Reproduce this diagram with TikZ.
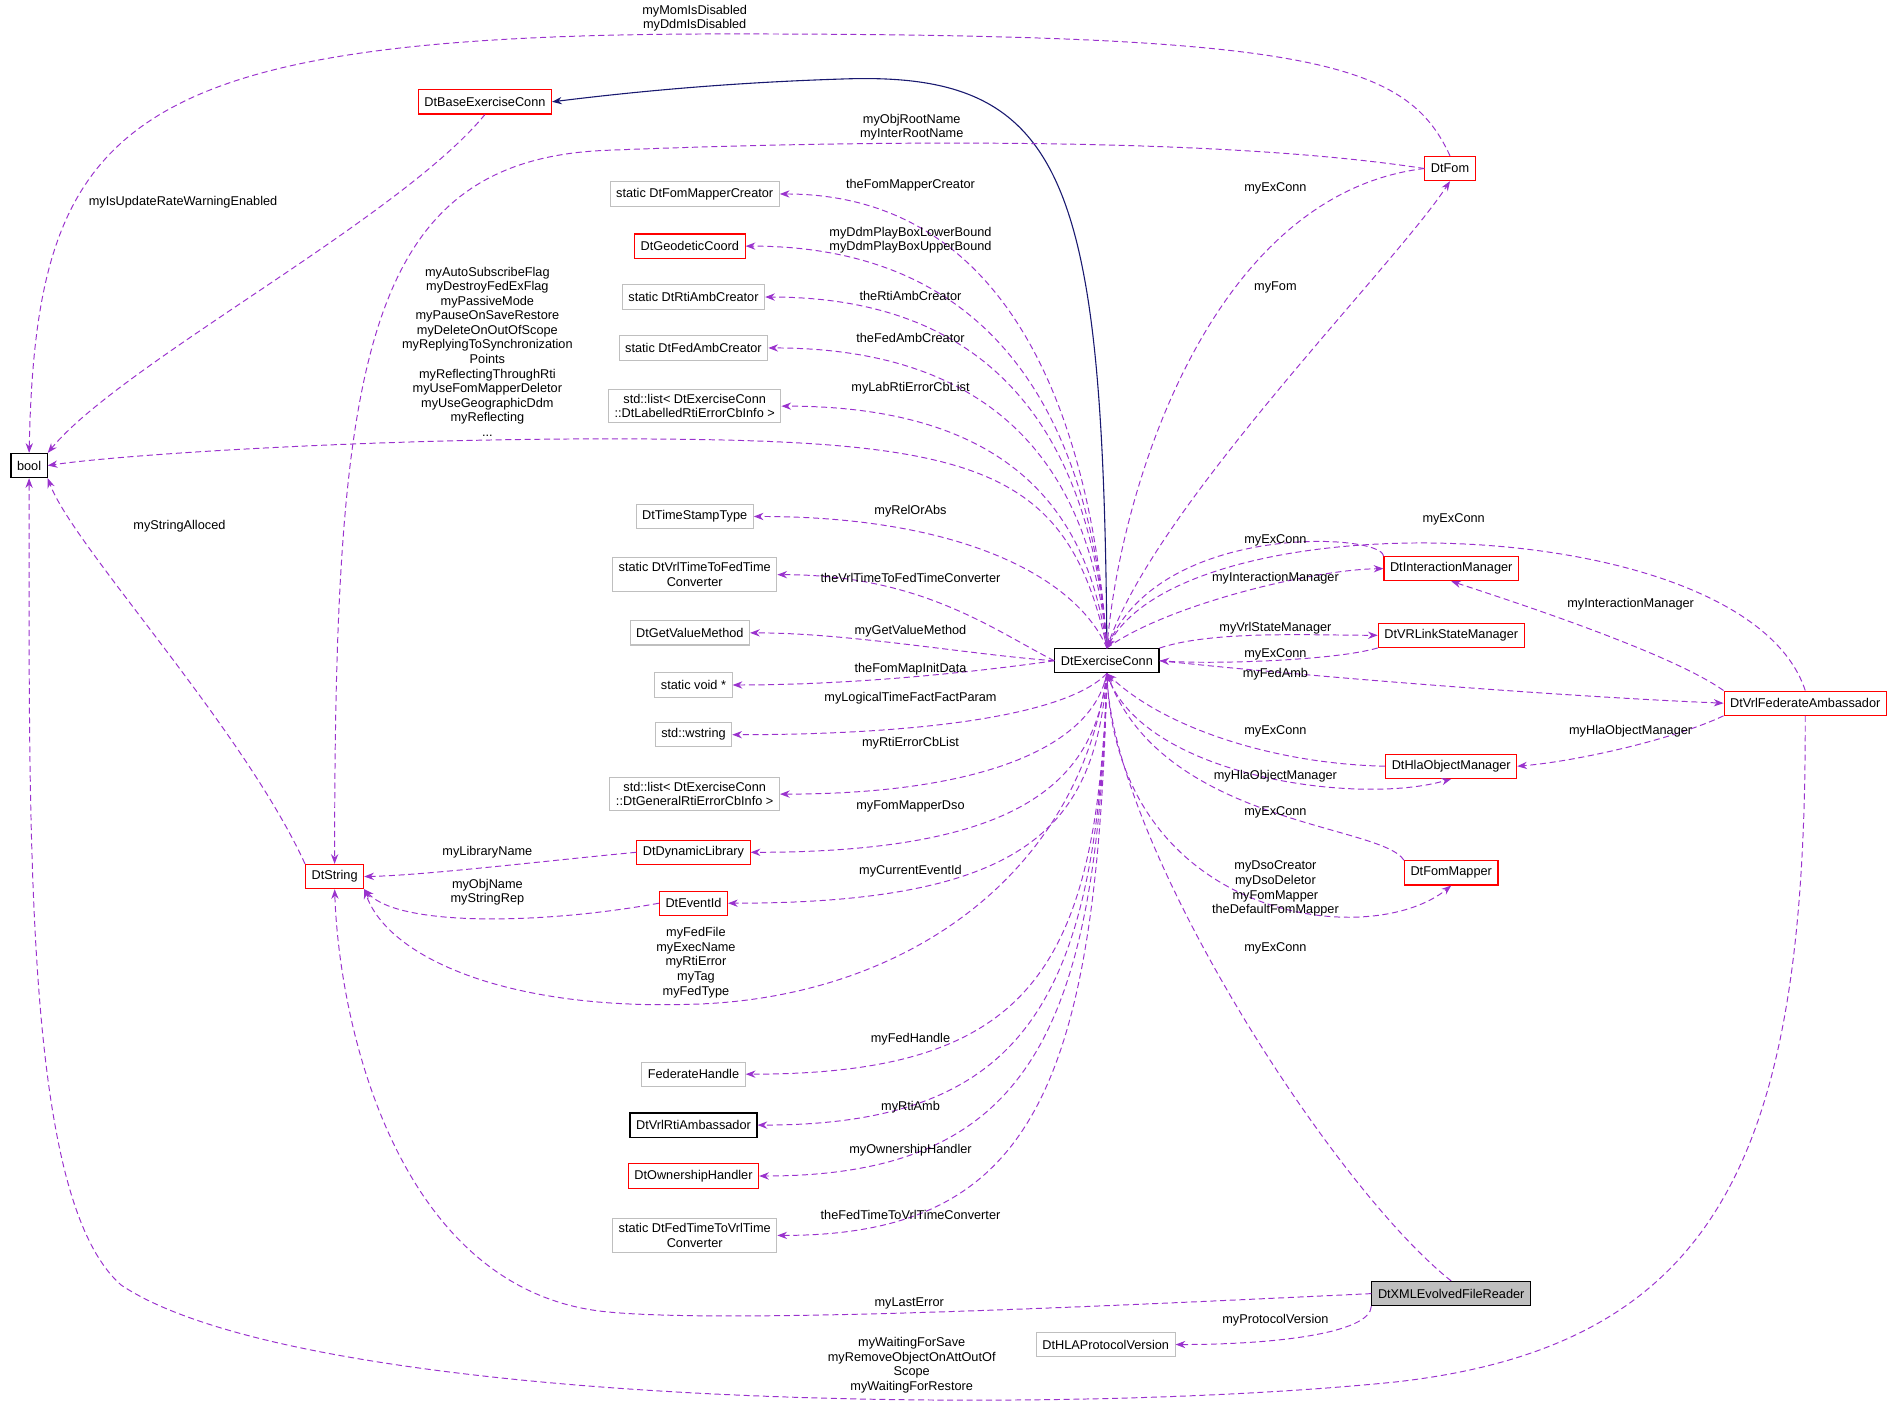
\documentclass[tikz,border=0pt]{standalone}
\usepackage{fontspec}
\setmainfont{Liberation Sans}
\usetikzlibrary{arrows.meta}
\definecolor{dred}{HTML}{FF0000}
\definecolor{dgray}{HTML}{BFBFBF}
\definecolor{dpurple}{HTML}{9A32CD}
\definecolor{dnavy}{HTML}{191970}
\begin{document}
\begin{tikzpicture}[x=1pt,y=-1pt,
  every node/.style={font=\fontsize{10.5}{12}\selectfont},
  box/.style={draw,rectangle,inner xsep=5pt,minimum height=20pt,align=center,line width=0.9pt},
  rb/.style={box,draw=dred},
  gb/.style={box,draw=dgray},
  kb/.style={box,draw=black},
  lbl/.style={align=center,inner sep=0pt},
  dep/.style={draw=dpurple,dashed,dash pattern=on 5pt off 3pt,line width=0.8pt,-{Stealth[length=8pt,width=6pt,fill=dpurple]}},
  inh/.style={draw=dnavy,line width=0.9pt,-{Stealth[length=8pt,width=6pt,fill=dnavy]}}]
\useasboundingbox (0,0) rectangle (1568,1155);
% nodes
\node[kb] (bool) at (24,384) {bool};
\node[rb] (bec) at (400,84) {DtBaseExerciseConn};
\node[rb] (fom) at (1196,139) {DtFom};
\node[gb] (fmc) at (573,160) {static DtFomMapperCreator};
\node[rb] (geo) at (569,203) {DtGeodeticCoord};
\node[gb] (rac) at (572,245) {static DtRtiAmbCreator};
\node[gb] (fac) at (572,287) {static DtFedAmbCreator};
\node[gb,inner ysep=4pt] (lab) at (573,335) {std::list< DtExerciseConn\\::DtLabelledRtiErrorCbInfo >};
\node[gb] (tst) at (573,426) {DtTimeStampType};
\node[gb,inner ysep=4pt] (v2f) at (573,474) {static DtVrlTimeToFedTime\\Converter};
\node[gb] (gvm) at (569,522) {DtGetValueMethod};
\node[gb] (svp) at (572,565) {static void *};
\node[gb] (wst) at (572,606) {std::wstring};
\node[gb,inner ysep=4pt] (gen) at (573,655) {std::list< DtExerciseConn\\::DtGeneralRtiErrorCbInfo >};
\node[rb] (dyn) at (572,703) {DtDynamicLibrary};
\node[rb] (evt) at (572,745) {DtEventId};
\node[rb] (str) at (276,723) {DtString};
\node[gb] (fh) at (572,886) {FederateHandle};
\node[kb] (vra) at (572,928) {DtVrlRtiAmbassador};
\node[rb] (own) at (572,970) {DtOwnershipHandler};
\node[gb,inner ysep=4pt] (f2v) at (573,1019) {static DtFedTimeToVrlTime\\Converter};
\node[gb] (hla) at (912,1109) {DtHLAProtocolVersion};
\node[kb,fill=dgray] (xml) at (1197,1067) {DtXMLEvolvedFileReader};
\node[kb] (ec) at (913,545) {DtExerciseConn};
\node[rb] (im) at (1197,469) {DtInteractionManager};
\node[rb] (vr) at (1197,524) {DtVRLinkStateManager};
\node[rb] (vfa) at (1489,580) {DtVrlFederateAmbassador};
\node[rb] (hom) at (1197,632) {DtHlaObjectManager};
\node[rb] (fm) at (1197,720) {DtFomMapper};
% inheritance
\draw[inh] (ec.north) .. controls (910,150) and (880,60) .. (700,65) .. controls (600,68) and (520,76) .. (bec.east);
% upper-left from ec
\draw[dep] (ec.north) .. controls (903,380) and (850,160) .. (fmc.east);
\draw[dep] (ec.north) .. controls (903,390) and (850,203) .. (geo.east);
\draw[dep] (ec.north) .. controls (903,400) and (850,245) .. (rac.east);
\draw[dep] (ec.north) .. controls (903,420) and (850,287) .. (fac.east);
\draw[dep] (ec.north) .. controls (900,440) and (850,335) .. (lab.east);
\draw[dep] (ec.north) .. controls (890,480) and (800,426) .. (tst.east);
\draw[dep] (ec.west) .. controls (820,520) and (760,474) .. (v2f.east);
\draw[dep] (ec.west) .. controls (800,540) and (700,522) .. (gvm.east);
\draw[dep] (ec.west) .. controls (800,555) and (700,565) .. (svp.east);
\draw[dep] (ec.south) .. controls (880,590) and (760,606) .. (wst.east);
\draw[dep] (ec.south) .. controls (900,620) and (800,655) .. (gen.east);
\draw[dep] (ec.south) .. controls (903,640) and (850,703) .. (dyn.east);
\draw[dep] (ec.south) .. controls (903,680) and (850,745) .. (evt.east);
\draw[dep] (ec.south) .. controls (905,800) and (850,886) .. (fh.east);
\draw[dep] (ec.south) .. controls (905,820) and (850,928) .. (vra.east);
\draw[dep] (ec.south) .. controls (905,850) and (850,970) .. (own.east);
\draw[dep] (ec.south) .. controls (905,900) and (850,1019) .. (f2v.east);
% ec to bool and string
\draw[dep] (ec.north) .. controls (880,380) and (800,362) .. (500,362) .. controls (300,362) and (100,375) .. (bool.east);
\draw[dep] (ec.south) .. controls (890,720) and (750,820) .. (580,828) .. controls (420,835) and (320,790) .. (str.south east);
% others to bool / string
\draw[dep] (bec.south) .. controls (330,180) and (100,300) .. (bool.north east);
\draw[dep] (fom.north) .. controls (1160,50) and (1080,28) .. (600,28) .. controls (100,28) and (30,100) .. (bool.north);
\draw[dep] (fom.west) .. controls (1000,112) and (700,116) .. (500,124) .. controls (300,132) and (276,300) .. (str.north);
\draw[dep] (str.north west) .. controls (200,600) and (60,450) .. (bool.south east);
\draw[dep] (dyn.west) .. controls (450,710) and (350,722) .. (str.east);
\draw[dep] (evt.west) .. controls (450,762) and (330,765) .. (str.south east);
\draw[dep] (xml.west) .. controls (900,1078) and (600,1092) .. (500,1082) .. controls (330,1065) and (280,850) .. (str.south);
\draw[dep] (xml.south west) .. controls (1130,1100) and (1050,1109) .. (hla.east);
\draw[dep] (xml.north) .. controls (1100,980) and (920,700) .. (ec.south);
\draw[dep] (vfa.south) .. controls (1490,950) and (1420,1110) .. (1150,1140) .. controls (850,1170) and (250,1160) .. (100,1060) .. controls (20,990) and (24,700) .. (bool.south);
% right side
\draw[dep] (fom.west) .. controls (1000,160) and (925,400) .. (ec.north);
\draw[dep] (ec.north) .. controls (950,420) and (1150,220) .. (fom.south);
\draw[dep] (im.north west) .. controls (1140,440) and (960,430) .. (ec.north);
\draw[dep] (ec.north) .. controls (960,500) and (1080,470) .. (im.west);
\draw[dep] (ec.north east) .. controls (1000,520) and (1080,524) .. (vr.west);
\draw[dep] (vr.south west) .. controls (1100,545) and (1000,548) .. (ec.east);
\draw[dep] (ec.east) .. controls (1100,560) and (1300,575) .. (vfa.west);
\draw[dep] (vfa.north) .. controls (1440,420) and (980,410) .. (ec.north);
\draw[dep] (vfa.north west) .. controls (1380,540) and (1260,500) .. (im.south);
\draw[dep] (vfa.south west) .. controls (1380,610) and (1300,628) .. (hom.east);
\draw[dep] (hom.west) .. controls (1050,630) and (960,600) .. (ec.south);
\draw[dep] (ec.south) .. controls (940,640) and (1120,665) .. (hom.south);
\draw[dep] (fm.north west) .. controls (1140,680) and (960,680) .. (ec.south);
\draw[dep] (ec.south) .. controls (920,760) and (1130,785) .. (fm.south);
% labels
\node[lbl] (l1) at (151,167) {myIsUpdateRateWarningEnabled};
\node[lbl] (l2) at (573,15) {myMomIsDisabled\\myDdmIsDisabled};
\node[lbl] (l3) at (752,105) {myObjRootName\\myInterRootName};
\node[lbl] (l4) at (1052,155) {myExConn};
\node[lbl] (l5) at (1052,237) {myFom};
\node[lbl] (l6) at (751,153) {theFomMapperCreator};
\node[lbl] (l7) at (751,198) {myDdmPlayBoxLowerBound\\myDdmPlayBoxUpperBound};
\node[lbl] (l8) at (751,244) {theRtiAmbCreator};
\node[lbl] (l9) at (751,279) {theFedAmbCreator};
\node[lbl] (l10) at (751,320) {myLabRtiErrorCbList};
\node[lbl] (l11) at (402,290) {myAutoSubscribeFlag\\myDestroyFedExFlag\\myPassiveMode\\myPauseOnSaveRestore\\myDeleteOnOutOfScope\\myReplyingToSynchronization\\Points\\myReflectingThroughRti\\myUseFomMapperDeletor\\myUseGeographicDdm\\myReflecting\\...};
\node[lbl] (l12) at (148,434) {myStringAlloced};
\node[lbl] (l13) at (751,422) {myRelOrAbs};
\node[lbl] (l14) at (751,477) {theVrlTimeToFedTimeConverter};
\node[lbl] (l15) at (751,521) {myGetValueMethod};
\node[lbl] (l16) at (751,552) {theFomMapInitData};
\node[lbl] (l17) at (751,576) {myLogicalTimeFactFactParam};
\node[lbl] (l18) at (751,613) {myRtiErrorCbList};
\node[lbl] (l19) at (751,665) {myFomMapperDso};
\node[lbl] (l20) at (751,719) {myCurrentEventId};
\node[lbl] (l21) at (402,703) {myLibraryName};
\node[lbl] (l22) at (402,736) {myObjName\\myStringRep};
\node[lbl] (l23) at (574,794) {myFedFile\\myExecName\\myRtiError\\myTag\\myFedType};
\node[lbl] (l24) at (751,857) {myFedHandle};
\node[lbl] (l25) at (751,913) {myRtiAmb};
\node[lbl] (l26) at (751,949) {myOwnershipHandler};
\node[lbl] (l27) at (751,1002) {theFedTimeToVrlTimeConverter};
\node[lbl] (l28) at (750,1075) {myLastError};
\node[lbl] (l29) at (1052,1089) {myProtocolVersion};
\node[lbl] (l30) at (752,1126) {myWaitingForSave\\myRemoveObjectOnAttOutOf\\Scope\\myWaitingForRestore};
\node[lbl] (l31) at (1052,782) {myExConn};
\node[lbl] (l32) at (1052,446) {myExConn};
\node[lbl] (l33) at (1052,477) {myInteractionManager};
\node[lbl] (l34) at (1052,518) {myVrlStateManager};
\node[lbl] (l35) at (1052,540) {myExConn};
\node[lbl] (l36) at (1199,428) {myExConn};
\node[lbl] (l37) at (1052,556) {myFedAmb};
\node[lbl] (l38) at (1345,498) {myInteractionManager};
\node[lbl] (l39) at (1345,603) {myHlaObjectManager};
\node[lbl] (l40) at (1052,603) {myExConn};
\node[lbl] (l41) at (1052,640) {myHlaObjectManager};
\node[lbl] (l42) at (1052,670) {myExConn};
\node[lbl] (l43) at (1052,733) {myDsoCreator\\myDsoDeletor\\myFomMapper\\theDefaultFomMapper};
\end{tikzpicture}
\end{document}
